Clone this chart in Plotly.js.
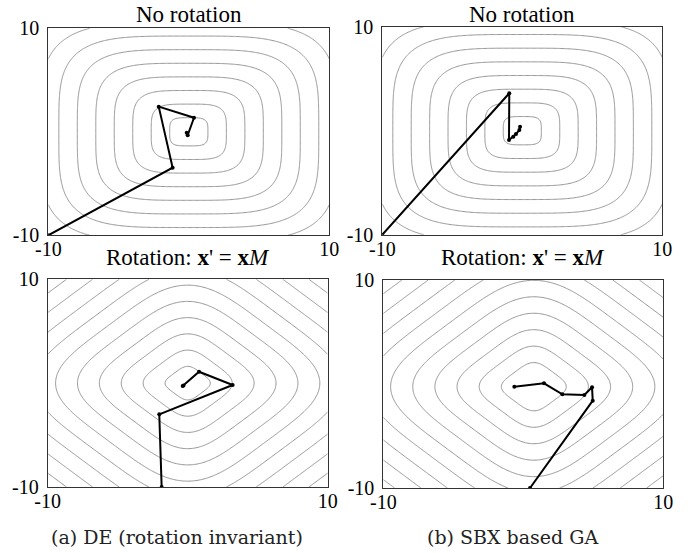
<!DOCTYPE html>
<html>
<head>
<meta charset="utf-8">
<script src="https://cdn.plot.ly/plotly-3.0.1.min.js"></script>
<style>
  html, body { margin: 0; padding: 0; background: #fff; }
  #chart { width: 699px; height: 553px; }
</style>
</head>
<body>
<div id="chart"></div>
<script>
// ---------- data ----------
// search paths (x1, x2) of each panel
const deNoRotX  = [-10, -1.15, -2.14, 0.37, -0.08, -0.15];
const deNoRotY  = [-10, -3.47,  2.43, 1.36, -0.33, -0.10];
const gaNoRotX  = [-10, -0.93, -0.95, -0.64, -0.45, -0.21, -0.16];
const gaNoRotY  = [-10,  3.60, -0.90, -0.58, -0.32,  0.07,  0.38];
const deRotX    = [-1.86, -2.03, 3.21, 0.81, -0.36, -0.30];
const deRotY    = [-10.0, -3.00, -0.18, 1.10, -0.27, -0.22];
const gaRotX    = [0.48, 4.96, 4.91, 4.36, 2.79, 1.48, -0.64];
const gaRotY    = [-10.0, -1.60, -0.32, -1.06, -0.99, 0.07, -0.26];

// panel titles and captions
const panelTitles = ["No rotation", "No rotation",
                     "Rotation: <b>x</b>' = <b>x</b><i>M</i>", "Rotation: <b>x</b>' = <b>x</b><i>M</i>"];
const captions = ["(a) DE (rotation invariant)", "(b) SBX based GA"];
const tickVals = [-10, 10];
const tickText = ["-10", "10"];

// objective used for the background contours: f(x') = (|x'1|^4 + |x'2|^4)^(1/4)
const normP = 4;
const rot45 = [[Math.SQRT1_2, -Math.SQRT1_2], [Math.SQRT1_2, Math.SQRT1_2]];
const ident = [[1, 0], [0, 1]];
// contour levels (start, step) and centre of each panel's field
const levelStart = [1.36, 1.36, 1.36, 1.95];
const levelStep  = [1.315, 1.315, 1.315, 1.33];
const fieldCx    = [0, 0, 0, 0.75];
const fieldCy    = [0, 0, 0, -0.26];
const matrices   = [ident, ident, rot45, rot45];

// ---------- build ----------
const N = 241;
const grid = [];
for (let i = 0; i < N; i++) grid.push(-10 + 20 * i / (N - 1));

function field(M, cx, cy) {
  const z = [];
  for (let j = 0; j < N; j++) {
    const row = [];
    for (let i = 0; i < N; i++) {
      const a = grid[i] - cx, b = grid[j] - cy;
      const u = a * M[0][0] + b * M[1][0];
      const v = a * M[0][1] + b * M[1][1];
      row.push(Math.pow(Math.pow(Math.abs(u), normP) + Math.pow(Math.abs(v), normP), 1 / normP));
    }
    z.push(row);
  }
  return z;
}

const paths = [[deNoRotX, deNoRotY], [gaNoRotX, gaNoRotY], [deRotX, deRotY], [gaRotX, gaRotY]];
const axSuffix = ["", "2", "3", "4"];
const traces = [];
for (let k = 0; k < 4; k++) {
  const xa = "x" + axSuffix[k], ya = "y" + axSuffix[k];
  traces.push({
    type: "contour", x: grid, y: grid, z: field(matrices[k], fieldCx[k], fieldCy[k]),
    xaxis: xa, yaxis: ya, showscale: false, hoverinfo: "skip",
    autocontour: false,
    contours: { coloring: "lines", start: levelStart[k], end: 16, size: levelStep[k], showlabels: false },
    colorscale: [[0, "#8a8a8a"], [1, "#8a8a8a"]],
    line: { width: 0.9, smoothing: 1 }
  });
  traces.push({
    type: "scatter", mode: "lines+markers", x: paths[k][0], y: paths[k][1],
    xaxis: xa, yaxis: ya, showlegend: false,
    line: { color: "#000", width: 2 },
    marker: { color: "#000", size: 4 }
  });
}

// panel pixel boxes -> paper domains
const W = 699, H = 553;
const boxes = [
  [48.3, 329.3, 28.3, 235.3],
  [382.3, 662.3, 26.7, 234.7],
  [47.7, 327.7, 279.3, 487.0],
  [383.3, 663.3, 280.0, 488.0]
];
const serif = "'Liberation Serif', 'Times New Roman', serif";
const capFont = "'DejaVu Serif', serif";
const layout = {
  width: W, height: H,
  margin: { l: 0, r: 0, t: 0, b: 0 },
  paper_bgcolor: "#fff", plot_bgcolor: "#fff",
  showlegend: false,
  font: { family: serif, size: 20, color: "#000" },
  annotations: []
};
for (let k = 0; k < 4; k++) {
  const b = boxes[k];
  const axCommon = {
    range: [-10, 10], tickmode: "array", tickvals: tickVals, ticktext: tickText,
    ticks: "", showgrid: false, zeroline: false,
    showline: true, mirror: true, linecolor: "#333", linewidth: 1,
    tickfont: { family: serif, size: 20, color: "#000" }, fixedrange: true
  };
  layout["xaxis" + axSuffix[k]] = Object.assign({}, axCommon, {
    domain: [b[0] / W, b[1] / W], anchor: "y" + axSuffix[k], ticklabelstandoff: -4
  });
  layout["yaxis" + axSuffix[k]] = Object.assign({}, axCommon, {
    domain: [1 - b[3] / H, 1 - b[2] / H], anchor: "x" + axSuffix[k], ticklabelstandoff: 4
  });
  const top = k < 2 ? 14 : 257;
  layout.annotations.push({
    text: panelTitles[k], xref: "paper", yref: "paper",
    x: ((b[0] + b[1]) / 2) / W, y: 1 - top / H,
    xanchor: "center", yanchor: "middle", showarrow: false,
    font: { family: serif, size: 23, color: "#000" }
  });
}
const capX = [177, 512];
for (let c = 0; c < 2; c++) {
  layout.annotations.push({
    text: captions[c], xref: "paper", yref: "paper",
    x: capX[c] / W, y: 1 - 537 / H, xanchor: "center", yanchor: "middle", showarrow: false,
    font: { family: capFont, size: 19, color: "#222" }
  });
}
Plotly.newPlot("chart", traces, layout, { displayModeBar: false, staticPlot: true });
</script>
</body>
</html>
